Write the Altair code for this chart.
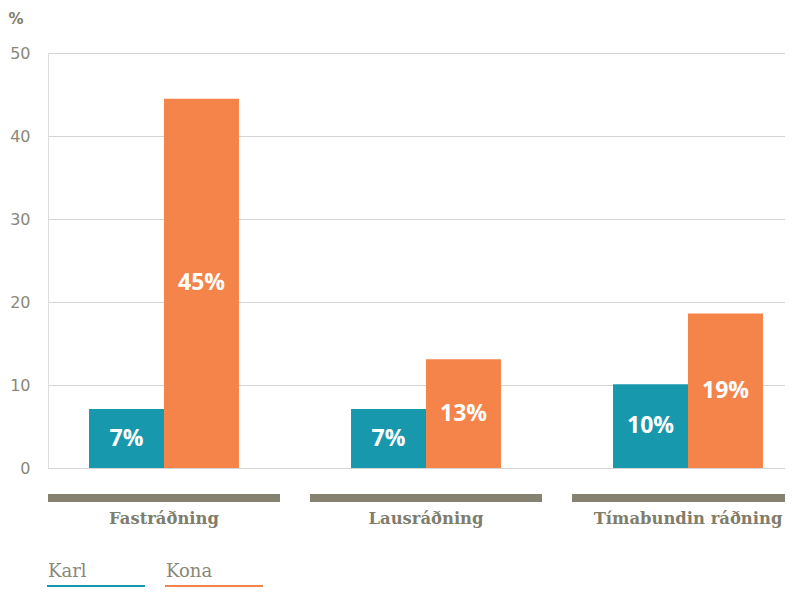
import altair as alt
import pandas as pd

categories = ["Fastráðning", "Lausráðning", "Tímabundin ráðning"]
genders = ["Karl", "Kona"]
karl_values = [7.1, 7.1, 10.1]
kona_values = [44.5, 13.1, 18.6]
karl_labels = ["7%", "7%", "10%"]
kona_labels = ["45%", "13%", "19%"]
y_ticks = [0, 10, 20, 30, 40, 50]
colors = ["#1898ad", "#f5844a"]

rows = []
for i, c in enumerate(categories):
    rows.append({"Category": c, "Gender": "Karl", "Value": karl_values[i], "Label": karl_labels[i]})
    rows.append({"Category": c, "Gender": "Kona", "Value": kona_values[i], "Label": kona_labels[i]})
df = pd.DataFrame(rows)
cat_df = pd.DataFrame({"Category": categories})

GRAY_TEXT = "#8a8878"

x_scale = alt.Scale(domain=categories, range=[0, 756], paddingInner=30 / 262, paddingOuter=0)
x_axis = alt.Axis(
    title=None, domain=False, ticks=False, labelAngle=0, labelPadding=42,
    labelFont="DejaVu Serif", labelFontWeight="bold", labelFontSize=16.4,
    labelColor="#7f7d6c", labelLimit=400,
)
x_enc = alt.X("Category:N", scale=x_scale, axis=x_axis, sort=categories)

y_scale = alt.Scale(domain=[0, 50], nice=False)
y_axis = alt.Axis(
    values=y_ticks, title="%", titleAngle=0, titleAlign="left", titleBaseline="middle",
    titleX=-40, titleY=-35, titleFont="DejaVu Sans", titleFontSize=15, titleFontWeight="bold",
    titleColor="#7f7d6c", domain=False, ticks=False, tickSize=0, labelPadding=18,
    labelFont="DejaVu Sans", labelFontSize=16, labelColor=GRAY_TEXT,
    grid=True, gridColor="#d4d4d0", gridWidth=1,
)

offset_scale = alt.Scale(domain=genders, paddingInner=0, paddingOuter=0.547)
color_scale = alt.Scale(domain=genders, range=colors)

base_bars = alt.Chart(cat_df).mark_bar(color="#858271").encode(
    x=x_enc,
    y=alt.value(441),
    y2=alt.value(449),
)

bars = alt.Chart(df).mark_bar().encode(
    x=x_enc,
    xOffset=alt.XOffset("Gender:N", scale=offset_scale, sort=genders),
    y=alt.Y("Value:Q", scale=y_scale, axis=y_axis),
    color=alt.Color(
        "Gender:N",
        scale=color_scale,
        legend=alt.Legend(
            orient="none", legendX=-18, legendY=510, direction="horizontal", title=None,
            symbolType="M8,13 L106,13 L106,14.8 L8,14.8 Z", symbolSize=4, symbolStrokeWidth=0,
            labelFont="DejaVu Serif", labelFontSize=18, labelColor=GRAY_TEXT,
            labelOffset=0, columnPadding=3,
        ),
    ),
)

texts = alt.Chart(df).transform_calculate(Mid="datum.Value / 2").mark_text(
    color="white", font="Open Sans", fontWeight="bold", fontSize=23, baseline="middle"
).encode(
    x=x_enc,
    xOffset=alt.XOffset("Gender:N", scale=offset_scale, sort=genders),
    y=alt.Y("Mid:Q", scale=y_scale, axis=y_axis),
    text="Label:N",
)

chart = alt.layer(base_bars, bars, texts).properties(
    width=737, height=415,
    autosize=alt.AutoSizeParams(type="none"),
    padding={"left": 40, "top": 45, "right": 0, "bottom": 119},
).configure_view(stroke=None).configure(background="white")

chart.save("out.html", embed_options={"renderer": "svg", "actions": False})
